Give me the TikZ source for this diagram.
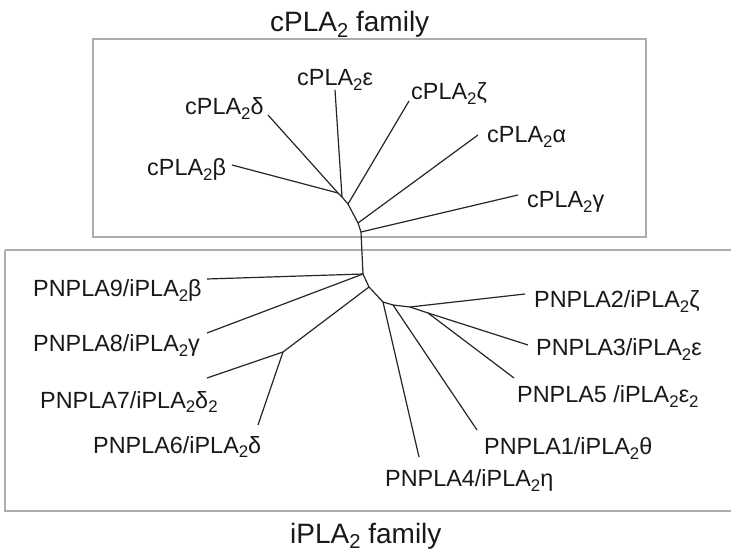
\documentclass[tikz,border=0pt]{standalone}
\usepackage{fontspec}
\setmainfont{Liberation Sans}
\newcommand\lowtwo[1]{\raisebox{-0.21em}{\fontsize{0.72em}{1em}\selectfont #1}}
\begin{document}
\begin{tikzpicture}[x=1pt,y=-1pt,
  lab/.style={anchor=base west,inner sep=0pt,font=\fontsize{23.4}{25}\selectfont,text=black!90},
  ttl/.style={anchor=base west,inner sep=0pt,font=\fontsize{28}{30}\selectfont,text=black!90},
  famframe/.style={draw=black!32,line width=1.3pt},
  branch/.style={draw=black!85,line width=1.2pt,line join=round}]
\useasboundingbox (0,0) rectangle (731,553);
\fill[white] (0,0) rectangle (731,553);
% frames
\draw[famframe] (93,39) rectangle (646,237);
\draw[famframe] (5,250) -- (745,250) (5,250) -- (5,511) -- (745,511);
% titles
\node[ttl] (tc) at (270,32) {cPLA\lowtwo{2} family};
\node[ttl] (ti) at (290,543) {iPLA\lowtwo{2} family};
% labels
\node[lab] (lb) at (147,175.5) {cPLA\lowtwo{2}β};
\node[lab] (ld) at (185,115) {cPLA\lowtwo{2}δ};
\node[lab] (le) at (297,85.5) {cPLA\lowtwo{2}ε};
\node[lab] (lz) at (411,99.5) {cPLA\lowtwo{2}ζ};
\node[lab] (la) at (487,142.5) {cPLA\lowtwo{2}α};
\node[lab] (lg) at (527,207.5) {cPLA\lowtwo{2}γ};
\node[lab] (p9) at (33,297) {PNPLA9/iPLA\lowtwo{2}β};
\node[lab] (p8) at (33,352) {PNPLA8/iPLA\lowtwo{2}γ};
\node[lab] (p7) at (40,408) {PNPLA7/iPLA\lowtwo{2}δ\lowtwo{2}};
\node[lab] (p6) at (93,453) {PNPLA6/iPLA\lowtwo{2}δ};
\node[lab] (p2) at (534,307.5) {PNPLA2/iPLA\lowtwo{2}ζ};
\node[lab] (p3) at (536,355.5) {PNPLA3/iPLA\lowtwo{2}ε};
\node[lab] (p5) at (517,402.5) {PNPLA5 /iPLA\lowtwo{2}ε\lowtwo{2}};
\node[lab] (p1) at (484,454.5) {PNPLA1/iPLA\lowtwo{2}θ};
\node[lab] (p4) at (385,486.5) {PNPLA4/iPLA\lowtwo{2}η};
% tips
\coordinate (tb) at (232,165);
\coordinate (td) at (268,115);
\coordinate (te) at (335,90);
\coordinate (tz) at (409,101);
\coordinate (ta) at (478,135);
\coordinate (tg) at (518,195);
\coordinate (t9) at (207,279);
\coordinate (t8) at (207,333);
\coordinate (t7) at (207,378);
\coordinate (t6) at (258,425);
\coordinate (t4) at (419,457);
\coordinate (t1) at (477,430);
\coordinate (t5) at (514,378);
\coordinate (t3) at (528,345);
\coordinate (t2) at (525,294);
% internal nodes
\coordinate (b1) at (338,193);
\coordinate (b2) at (342,197);
\coordinate (b3) at (348,204);
\coordinate (b4) at (358,223);
\coordinate (b5) at (361,232);
\coordinate (b6) at (363,274);
\coordinate (b7) at (369,287);
\coordinate (b8) at (383,302);
\coordinate (b9) at (393,305);
\coordinate (b10) at (410,307);
\coordinate (n35) at (428,313);
\coordinate (c76) at (283,352);
% backbone
\draw[branch] (b1) -- (b2) -- (b3) -- (b4) -- (b5) -- (b6) -- (b7) -- (b8) -- (b9) -- (b10) -- (n35);
% branches
\draw[branch] (b1) -- (tb);
\draw[branch] (b1) -- (td);
\draw[branch] (b2) -- (te);
\draw[branch] (b3) -- (tz);
\draw[branch] (b4) -- (ta);
\draw[branch] (b5) -- (tg);
\draw[branch] (b6) -- (t9);
\draw[branch] (b6) -- (t8);
\draw[branch] (b7) -- (c76);
\draw[branch] (c76) -- (t7);
\draw[branch] (c76) -- (t6);
\draw[branch] (b8) -- (t4);
\draw[branch] (b9) -- (t1);
\draw[branch] (b10) -- (t2);
\draw[branch] (n35) -- (t3);
\draw[branch] (n35) -- (t5);
\end{tikzpicture}
\end{document}
